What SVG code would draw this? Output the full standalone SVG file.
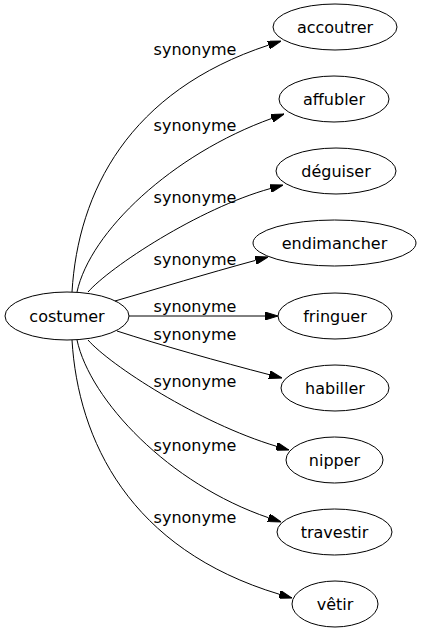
<svg xmlns="http://www.w3.org/2000/svg" width="422" height="635" viewBox="0 0 422 635">
<style>
.n ellipse{fill:none;stroke:#000;stroke-width:1}
text{font-family:"DejaVu Sans",sans-serif;font-size:16px;fill:#000;text-anchor:middle}
.e path{fill:none;stroke:#000;stroke-width:1;marker-end:url(#a)}
</style>
<defs>
<marker id="a" markerWidth="13" markerHeight="8" refX="0" refY="4" orient="auto" markerUnits="userSpaceOnUse">
<path d="M0,0 L13,4 L0,8 z" fill="#000" stroke="#000" stroke-width="1"/>
</marker>
</defs>
<rect width="422" height="635" fill="#fff"/>
<g class="e" id="edges">
<path d="M72,292 C78,192 128.6,91.1 268.6,45.1"/>
<path d="M77,292 C90,232 171.8,154.4 271.8,118.4"/>
<path d="M88,292 C110,267 198.5,208.5 270.5,188.5"/>
<path d="M115,301 C160,288 205.5,273.9 255.5,260.4"/>
<path d="M129,316 L265,316"/>
<path d="M117,331 C160,345 219.4,361.7 269.4,374.7"/>
<path d="M88,340 C110,365 198.5,422.9 276.5,446.3"/>
<path d="M77,340 C90,400 168.7,483.8 268.7,517.8"/>
<path d="M72,340 C78,440 129.5,549.3 279.5,594.3"/>
<text x="195" y="55">synonyme</text>
<text x="195" y="131">synonyme</text>
<text x="195" y="203">synonyme</text>
<text x="195" y="265">synonyme</text>
<text x="195" y="311.5">synonyme</text>
<text x="195" y="340">synonyme</text>
<text x="195" y="387">synonyme</text>
<text x="195" y="450.5">synonyme</text>
<text x="195" y="522.5">synonyme</text>
</g>
<g class="n" id="costumer"><ellipse cx="67" cy="316" rx="62" ry="24"/><text x="67" y="321.5">costumer</text></g>
<g class="n" id="accoutrer"><ellipse cx="335" cy="27" rx="62" ry="23"/><text x="335" y="32.5">accoutrer</text></g>
<g class="n" id="affubler"><ellipse cx="334" cy="99" rx="55" ry="23"/><text x="334" y="104.5">affubler</text></g>
<g class="n" id="deguiser"><ellipse cx="336" cy="171" rx="60" ry="23"/><text x="336" y="176.5">déguiser</text></g>
<g class="n" id="endimancher"><ellipse cx="334.5" cy="243" rx="81.5" ry="23"/><text x="334.5" y="248.5">endimancher</text></g>
<g class="n" id="fringuer"><ellipse cx="335" cy="316" rx="57" ry="23"/><text x="335" y="321.5">fringuer</text></g>
<g class="n" id="habiller"><ellipse cx="335" cy="388" rx="54" ry="23"/><text x="335" y="393.5">habiller</text></g>
<g class="n" id="nipper"><ellipse cx="334.5" cy="460" rx="48.5" ry="23"/><text x="334.5" y="465.5">nipper</text></g>
<g class="n" id="travestir"><ellipse cx="334.5" cy="532" rx="57.5" ry="23"/><text x="334.5" y="537.5">travestir</text></g>
<g class="n" id="vetir"><ellipse cx="335" cy="604" rx="43" ry="23"/><text x="335" y="609.5">vêtir</text></g>
</svg>
